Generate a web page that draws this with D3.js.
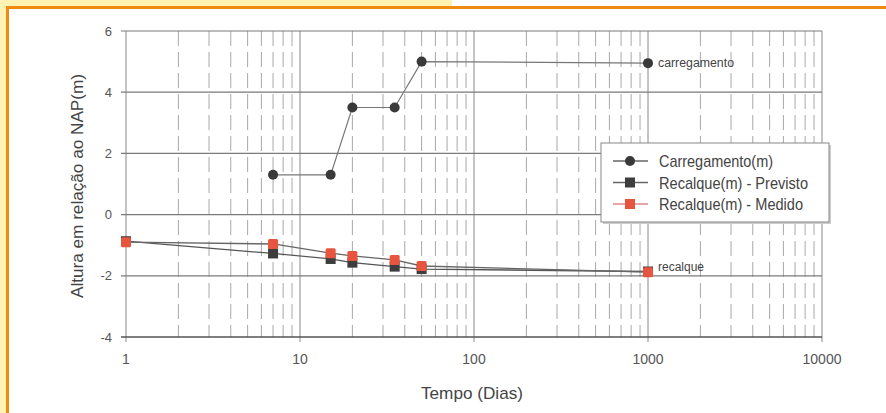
<!DOCTYPE html>
<html><head><meta charset="utf-8">
<script src="https://cdn.jsdelivr.net/npm/d3@7"></script>
<style>
html,body{margin:0;padding:0;background:#fff;}
svg{display:block;}
text{font-family:"Liberation Sans Narrow","Arial Narrow","Liberation Sans",sans-serif;}
</style></head>
<body><svg id="c" width="886" height="413"></svg>
<script>
const days = [1, 7, 15, 20, 35, 50, 1000];
const carregDays = [7, 15, 20, 35, 50, 1000];
const carregamento = [1.3, 1.3, 3.5, 3.5, 5.0, 4.95];
const previsto = [-0.87, -1.27, -1.45, -1.57, -1.7, -1.78, -1.86];
const medido = [-0.9, -0.96, -1.26, -1.35, -1.48, -1.68, -1.88];
const xTicks = [1, 10, 100, 1000, 10000];
const yTicks = [-4, -2, 0, 2, 4, 6];
const legendLabels = ["Carregamento(m)", "Recalque(m) - Previsto", "Recalque(m) - Medido"];

const svg = d3.select("#c");
// frame
svg.append("rect").attr("x",0).attr("y",0).attr("width",452).attr("height",7).attr("fill","#fff2b3");
svg.append("rect").attr("x",0).attr("y",0).attr("width",7).attr("height",413).attr("fill","#fff2b3");
svg.append("rect").attr("x",6).attr("y",6).attr("width",880).attr("height",3).attr("fill","#f0890f");
svg.append("rect").attr("x",6).attr("y",6).attr("width",3).attr("height",407).attr("fill","#f0890f");

const x = d3.scaleLog().domain([1,10000]).range([126,822]);
const y = d3.scaleLinear().domain([-4,6]).range([337,31]);
const g = svg.append("g");

// minor vertical dashed grid
const minors = [];
for (let d=1; d<10000; d*=10) for (let k=2;k<=9;k++) minors.push(d*k);
g.selectAll(".minor").data(minors).enter().append("line")
 .attr("x1",d=>x(d)).attr("x2",d=>x(d)).attr("y1",y(6)).attr("y2",y(-4))
 .attr("stroke","#a8a8a8").attr("stroke-width",1).attr("stroke-dasharray","15,6");
// major vertical
g.selectAll(".majv").data(xTicks).enter().append("line")
 .attr("x1",d=>x(d)).attr("x2",d=>x(d)).attr("y1",y(6)).attr("y2",y(-4)+5)
 .attr("stroke","#8a8a8a").attr("stroke-width",1);
// major horizontal
g.selectAll(".majh").data(yTicks).enter().append("line")
 .attr("x1",x(1)-5).attr("x2",x(10000)).attr("y1",d=>y(d)).attr("y2",d=>y(d))
 .attr("stroke",d=>d===-4?"#555":"#7a7a7a").attr("stroke-width",d=>d===-4?1.6:1.2);

// axis labels
g.selectAll(".yl").data(yTicks).enter().append("text")
 .attr("x",112).attr("y",d=>y(d)+4.5).attr("text-anchor","end")
 .attr("font-size",13).attr("fill","#555").text(d=>d);
g.selectAll(".xl").data(xTicks).enter().append("text")
 .attr("x",d=>x(d)).attr("y",364).attr("text-anchor","middle")
 .attr("font-size",14).attr("fill","#555").text(d=>d);
svg.append("text").attr("x",472).attr("y",399).attr("text-anchor","middle")
 .attr("font-size",17).attr("fill","#444").attr("textLength",102).attr("lengthAdjust","spacingAndGlyphs").text("Tempo (Dias)");
svg.append("text").attr("transform","translate(83,186) rotate(-90)").attr("text-anchor","middle")
 .attr("font-size",17).attr("fill","#444").attr("textLength",224).attr("lengthAdjust","spacingAndGlyphs").text("Altura em relação ao NAP(m)");

const line = d3.line().x(d=>x(d[0])).y(d=>y(d[1]));
const cData = carregDays.map((d,i)=>[d,carregamento[i]]);
const pData = days.map((d,i)=>[d,previsto[i]]);
const mData = days.map((d,i)=>[d,medido[i]]);

g.append("path").attr("d",line(pData)).attr("fill","none").attr("stroke","#555").attr("stroke-width",1.3);
g.append("path").attr("d",line(mData)).attr("fill","none").attr("stroke","#666").attr("stroke-width",1.3);
g.append("path").attr("d",line(cData)).attr("fill","none").attr("stroke","#777").attr("stroke-width",1.2);

g.selectAll(".cp").data(cData).enter().append("circle")
 .attr("cx",d=>x(d[0])).attr("cy",d=>y(d[1])).attr("r",5).attr("fill","#3a3a3a");
g.selectAll(".pp").data(pData).enter().append("rect")
 .attr("x",d=>x(d[0])-5).attr("y",d=>y(d[1])-5).attr("width",10).attr("height",10).attr("fill","#3d3d3d");
g.selectAll(".mp").data(mData).enter().append("rect")
 .attr("x",d=>x(d[0])-5).attr("y",d=>y(d[1])-5).attr("width",10).attr("height",10).attr("rx",1.5).attr("fill","#e8553e");

// annotations
svg.append("text").attr("x",x(1000)+10).attr("y",y(4.95)+4).attr("font-size",12).attr("fill","#444")
 .attr("textLength",76).attr("lengthAdjust","spacingAndGlyphs").text("carregamento");
svg.append("text").attr("x",x(1000)+10).attr("y",y(-1.88)-1).attr("font-size",12).attr("fill","#444")
 .attr("textLength",46).attr("lengthAdjust","spacingAndGlyphs").text("recalque");

// legend
const lg = svg.append("g");
lg.append("rect").attr("x",603).attr("y",145).attr("width",228).attr("height",79).attr("fill","#ccc");
lg.append("rect").attr("x",601).attr("y",143).attr("width",228).attr("height",79).attr("fill","#fff").attr("stroke","#888").attr("stroke-width",1);
const lcol = ["#3a3a3a","#3d3d3d","#e8553e"];
const lline = ["#666","#666","#d88"];
const lw = [114, 149, 144];
legendLabels.forEach((t,i)=>{
  const yy = 161 + i*21.5;
  lg.append("line").attr("x1",613).attr("x2",648).attr("y1",yy).attr("y2",yy).attr("stroke",lline[i]).attr("stroke-width",1.3);
  if(i===0) lg.append("circle").attr("cx",630).attr("cy",yy).attr("r",5).attr("fill",lcol[i]);
  else lg.append("rect").attr("x",625).attr("y",yy-5).attr("width",10).attr("height",10).attr("fill",lcol[i]);
  lg.append("text").attr("x",659).attr("y",yy+6).attr("font-size",17).attr("fill","#444")
   .attr("textLength",lw[i]).attr("lengthAdjust","spacingAndGlyphs").text(t);
});
</script></body></html>
